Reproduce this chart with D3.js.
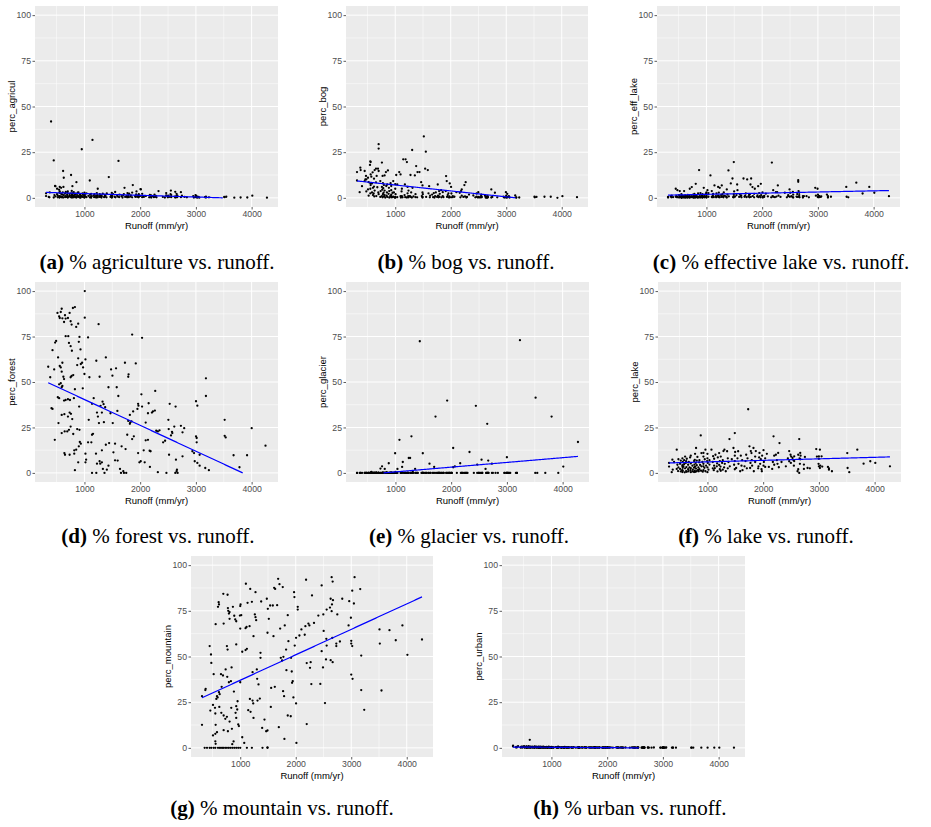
<!DOCTYPE html>
<html>
<head>
<meta charset="utf-8">
<script src="https://cdn.jsdelivr.net/npm/d3@7"></script>
<style>
  body { margin: 0; background: #ffffff; }
  svg { display: block; }
</style>
</head>
<body>
<svg id="fig" width="931" height="827"></svg>
<script>
// Catchment runoff (mm/yr), shared by the land-cover series below.
const runoff = [
  311,311,359,371,377,401,449,449,461,473,
  479,479,509,509,521,521,545,551,551,551,
  551,557,557,557,569,581,581,593,599,599,
  611,617,617,623,629,629,653,653,659,665,
  677,689,695,701,701,701,701,731,731,737,
  760,760,760,766,772,772,778,778,784,790,
  796,796,808,808,808,820,832,838,844,850,
  856,856,868,880,886,892,892,910,916,928,
  928,928,928,928,946,952,964,964,976,994,
  1000,1000,1000,1000,1006,1018,1036,1036,1072,1096,
  1096,1102,1114,1120,1120,1132,1144,1168,1174,1180,
  1186,1210,1210,1222,1222,1234,1239,1239,1263,1275,
  1275,1287,1299,1305,1311,1329,1353,1365,1365,1377,
  1395,1401,1437,1467,1479,1491,1491,1491,1491,1497,
  1515,1539,1551,1557,1587,1599,1611,1623,1629,1665,
  1683,1695,1707,1719,1731,1754,1766,1772,1778,1790,
  1796,1802,1826,1832,1856,1856,1868,1910,1916,1928,
  1934,1946,1958,1970,1976,1982,2006,2006,2012,2036,
  2036,2066,2102,2162,2174,2186,2198,2198,2228,2246,
  2257,2269,2281,2293,2329,2407,2443,2467,2467,2491,
  2497,2503,2527,2545,2551,2557,2557,2617,2629,2629,
  2647,2647,2653,2659,2665,2665,2671,2731,2731,2749,
  2796,2838,2952,2964,2994,3000,3000,3000,3018,3018,
  3024,3048,3060,3162,3180,3180,3234,3509,3515,3545,
  3689,3802,3922,4012,4275
];

const percAgricul = [
  2.5,1.0,0.5,0.3,3.0,41.8,20.5,0.2,1.5,6.5,
  6.4,0.8,2.0,5.0,0.3,1.2,4.5,0.5,2.8,0.2,
  1.0,6.0,0.4,3.5,0.8,5.5,2.2,0.3,1.8,0.6,
  3.0,14.7,0.2,6.0,11.0,1.5,0.4,2.4,0.9,3.2,
  0.5,1.6,2.8,0.2,3.6,1.0,0.4,2.2,0.7,1.3,
  12.5,0.3,2.5,1.1,3.8,0.6,1.9,0.2,6.4,1.4,
  0.5,2.6,1.2,0.3,3.1,0.8,1.7,0.4,2.3,0.6,
  8.6,0.2,1.5,2.8,0.5,1.0,3.0,0.3,1.8,0.7,
  2.1,0.4,1.2,0.1,0.9,26.6,2.4,0.5,1.6,0.3,
  2.9,0.6,1.3,0.2,1.9,0.8,2.5,0.4,1.1,9.5,
  0.3,1.7,0.5,2.2,0.1,0.9,31.7,1.4,0.4,2.0,
  0.6,1.2,0.2,2.6,0.8,1.5,5.0,0.3,1.0,0.5,
  2.0,0.7,1.3,0.2,0.9,2.3,0.4,1.6,0.6,1.1,
  0.3,2.4,11.4,0.5,1.2,0.2,2.7,0.8,0.4,1.5,
  2.0,0.6,3.2,0.3,1.1,0.7,20.2,0.4,1.8,0.9,
  0.2,1.4,2.1,5.5,0.5,1.0,0.3,2.6,0.8,1.6,
  0.4,2.3,0.7,1.3,2.9,0.3,7.0,1.0,0.5,1.9,
  3.5,0.6,1.2,0.3,2.0,0.8,4.8,1.1,4.6,0.4,
  2.2,0.5,1.0,0.3,1.6,0.7,0.2,1.3,0.9,0.4,
  1.8,0.6,1.1,0.3,3.7,0.5,0.2,1.4,2.6,0.8,
  0.3,1.2,0.6,2.0,4.0,0.4,1.5,0.7,0.2,3.3,
  1.0,0.5,2.2,0.3,1.4,0.6,0.8,3.1,0.4,1.2,
  0.5,0.3,0.9,0.2,1.5,0.4,1.1,0.6,0.3,0.8,
  0.2,0.5,0.1,0.4,0.6,0.2,0.3,0.5,0.4,0.6,
  0.1,0.2,0.2,1.2,0.1
];

const percBog = [
  14.1,9.5,3.1,16.5,15.2,6.4,9.2,14.7,10.1,12.0,
  10.1,3.5,4.6,11.0,8.6,1.2,18.0,20.0,5.0,8.0,
  2.5,19.6,12.8,7.0,11.6,3.0,7.9,14.0,5.5,1.5,
  2.4,10.5,6.2,0.8,15.2,4.0,16.0,8.5,1.0,12.0,
  5.8,16.0,3.0,29.4,27.0,14.7,2.0,9.2,0.5,3.7,
  19.3,6.0,1.0,4.5,12.0,0.3,8.0,2.0,5.3,2.8,
  0.8,7.0,12.3,1.5,4.0,0.2,14.1,6.5,1.2,3.0,
  7.3,0.5,15.0,2.2,5.5,0.2,3.7,1.0,8.0,0.9,
  4.2,0.3,6.5,1.8,0.4,2.8,9.2,0.6,3.0,0.2,
  5.0,0.5,7.5,0.1,2.0,12.5,7.3,0.4,14.1,0.9,
  12.8,0.2,3.5,0.9,5.0,0.3,21.1,1.5,7.3,0.4,
  21.1,19.6,0.2,6.0,2.5,0.9,0.3,4.0,1.0,12.5,
  0.6,3.0,0.2,26.2,5.5,0.8,12.3,2.0,0.4,17.4,
  0.3,14.1,14.1,8.6,1.0,6.8,0.2,3.0,0.5,2.0,
  33.6,16.0,25.3,0.5,15.2,2.5,6.4,0.3,1.2,1.8,
  0.4,2.6,0.2,1.0,3.0,0.5,7.3,1.2,0.3,3.7,
  0.6,2.2,4.2,0.3,3.1,1.0,0.4,3.7,11.9,9.2,
  0.5,1.5,2.5,0.2,0.8,7.9,6.0,0.3,2.4,1.0,
  0.4,0.6,3.1,2.8,0.3,3.7,1.2,4.6,0.5,7.0,
  0.8,8.6,0.2,0.5,1.8,1.3,0.3,2.4,0.6,0.2,
  3.1,0.5,0.2,1.0,1.8,0.3,0.6,1.3,0.2,0.9,
  0.4,0.1,0.7,0.2,0.5,1.0,0.3,4.6,0.2,0.5,
  2.8,0.3,0.6,0.2,3.1,0.5,1.2,0.1,2.2,0.3,
  0.4,0.9,0.2,1.3,0.3,0.1,0.2,0.6,0.3,0.5,
  0.6,0.6,0.0,0.9,0.4
];

const percEffLake = [
  0.5,0.2,0.8,0.3,1.2,0.4,5.0,0.6,1.0,0.3,
  4.2,0.5,1.5,0.2,3.7,0.8,0.3,1.1,0.4,2.0,
  0.2,0.7,1.3,0.1,0.5,1.0,0.3,0.8,3.7,0.2,
  0.6,1.4,0.3,0.9,0.2,1.1,0.5,0.8,0.1,1.6,
  0.4,0.7,1.2,0.3,5.0,0.6,0.2,1.0,0.4,5.9,
  0.3,1.8,0.6,0.2,1.1,0.5,0.8,0.3,2.2,0.4,
  1.0,0.2,0.6,7.7,0.4,1.3,0.3,0.7,0.2,2.5,
  0.5,0.3,15.2,1.0,0.2,2.6,0.6,0.4,1.5,0.3,
  0.8,2.0,0.2,1.2,0.5,5.5,0.3,1.6,0.7,2.4,
  0.4,3.0,1.0,0.2,1.8,4.2,0.6,2.6,12.3,0.5,
  3.7,0.3,1.4,0.8,2.2,0.4,6.8,1.0,0.3,2.5,
  0.6,6.0,1.2,0.4,2.9,0.8,0.3,5.5,1.5,6.8,
  0.5,2.0,0.9,0.3,3.0,1.1,0.6,4.6,0.2,1.8,
  15.0,0.8,7.9,10.6,0.4,19.6,2.0,1.0,0.3,3.5,
  0.7,1.5,7.3,4.2,0.5,2.1,0.9,1.3,0.3,10.6,
  0.6,1.2,2.4,0.4,10.1,0.8,1.6,0.3,2.0,7.3,
  0.5,10.6,5.9,1.0,0.3,2.2,5.0,0.7,1.4,6.4,
  0.4,2.6,0.9,0.3,7.7,1.5,0.6,3.0,0.2,1.1,
  0.5,2.3,0.8,0.3,19.3,1.0,4.2,0.6,0.4,3.1,
  0.7,3.1,6.8,1.2,0.5,2.8,0.3,1.5,0.9,4.6,
  0.6,2.8,1.0,0.4,3.3,0.2,1.8,0.7,2.1,0.5,
  9.7,8.8,3.7,0.6,1.5,2.8,0.3,1.0,0.2,0.9,
  0.9,0.3,5.5,1.2,5.0,0.4,1.8,0.6,0.9,0.3,
  1.0,0.5,0.8,1.8,0.9,0.2,0.6,6.0,0.6,0.3,
  8.3,2.4,6.0,2.8,0.9
];

const percGlacier = [
  0,0,0,0,0,0,0,0,0,0,
  0,0,0,0,0,0,0,0,0,0,
  0,0,0,0,0.5,0,0,0,0,0,
  0,0,0,0,0,0,0.3,0,0,0,
  0,0,0,0,0,0,0,2.4,0,0,
  3.6,0,0,0,0,0.2,0,0,0,0,
  0,0,2.2,0,0,0,0,0.4,0,0,
  0,0,0,5.3,0,0,0,0,0.3,0,
  0,0,0,0,0,0,0,0,0,10.8,
  0,0,0.5,0,0,0,2.2,0,18.2,0,
  0,0,0.4,0,3.3,6.0,0,0,0,0,
  0,0,0,0,0,0,8.2,0,8.2,0,
  0,20.1,0,0,0.6,0,2.2,0,0,0,
  0,0,72.4,0,0,10.8,0,0,0,0,
  0,0,0,0,0,0,5.1,0,0,0,
  0,3.3,0,31.0,0,0,0,0,0,0,
  0,0,0,0,0,0,0,0,0,39.8,
  0,0,0,0,0,0,0,0,0,3.1,
  13.7,3.6,0,5.3,0,0,0,0,0,0,
  0,0,0,0,11.5,0,36.9,4.6,0,0,
  0,0,0,7.3,0,0,0,2.2,0,0,
  27.0,0,0,0,6.8,0,0,5.1,0,0,
  0,0,0,0,0,8.6,0,0,0,0,
  0,0,0,0,0,0,73.0,0,41.4,0,
  0,31.0,0,3.5,17.0
];

const percLake = [
  5.5,3.5,0.4,7.3,1.8,6.0,12.8,2.2,4.5,1.0,
  7.5,3.0,2.2,5.0,0.8,6.8,1.5,3.6,8.0,4.2,
  0.5,2.8,6.0,1.2,3.6,7.0,4.8,0.3,2.5,9.0,
  5.5,1.0,6.4,3.2,0.6,7.8,2.0,4.5,0.9,6.0,
  3.0,8.5,1.5,0.4,5.2,2.6,9.5,0.8,4.0,1.8,
  6.5,2.9,0.5,4.6,7.2,1.2,3.4,10.5,0.6,5.5,
  13.7,2.4,6.8,0.9,4.2,8.8,1.6,3.0,0.9,5.8,
  2.0,7.0,4.4,20.6,1.2,10.9,3.6,6.0,0.7,3.6,
  9.0,1.5,5.0,11.0,2.8,7.5,0.9,12.8,4.0,6.5,
  0.4,8.0,3.0,10.5,5.5,1.8,4.6,7.0,12.8,2.5,
  6.0,9.2,1.5,4.0,7.8,2.6,10.0,3.6,5.2,0.8,
  8.5,4.4,10.9,2.0,6.5,3.5,9.0,1.2,5.5,1.8,
  7.0,12.0,3.0,12.8,5.0,0.9,11.9,8.0,2.5,6.0,
  18.6,3.6,7.5,13.7,4.5,21.9,9.5,2.0,6.5,11.5,
  2.7,8.0,11.9,5.0,0.9,9.5,4.0,7.0,1.5,3.6,
  6.5,10.0,2.5,8.0,35.0,14.6,2.7,5.5,12.0,10.9,
  7.0,4.0,13.7,0.9,9.0,6.0,12.0,2.5,3.6,8.5,
  11.0,5.0,7.5,2.0,0.9,9.5,12.5,4.0,6.0,3.3,
  8.0,10.5,3.3,2.2,6.0,20.1,9.5,4.5,10.0,7.0,
  5.0,11.0,3.1,16.4,6.0,3.6,8.0,12.0,6.4,10.0,
  5.5,9.0,8.2,7.0,4.0,9.1,6.5,0.9,10.0,2.0,
  0.0,18.6,8.0,5.0,11.0,7.5,9.5,4.6,2.2,8.8,
  2.7,2.5,13.1,9.0,5.0,3.6,7.8,9.1,12.8,2.7,
  4.0,9.1,3.5,3.3,1.8,2.5,0.9,10.9,2.7,0.4,
  12.8,5.1,6.4,5.5,3.6
];

const percMountain = [
  28.3,12.6,0,31.6,32.3,0,55.7,0,20.4,51.1,
  46.5,0,23.5,6.8,40.3,0,21.9,18.8,7.7,3.6,
  0,67.7,2.2,12.6,26.8,28.3,8.6,27.6,77.2,0,
  79.7,78.5,30.5,22.4,29.4,0,40.3,0,19.2,33.4,
  0,39.6,84.3,68.0,17.7,9.7,0,15.9,0,42.9,
  55.7,17.0,0,38.9,83.8,53.8,76.5,9.1,75.0,0,
  73.5,35.9,74.3,70.6,14.4,0,36.5,21.9,44.0,10.4,
  2.0,0,77.2,3.5,30.8,72.3,0,70.3,19.2,69.3,
  56.6,22.8,16.4,0,21.0,25.5,12.8,0,11.9,72.4,
  77.6,65.3,35.9,0,78.5,72.6,52.6,5.8,2.7,65.5,
  53.5,89.8,66.2,54.2,0,79.4,20.6,66.6,26.8,87.0,
  19.7,79.9,0,41.4,25.9,24.3,61.1,16.4,73.0,85.2,
  71.5,69.9,42.9,37.8,25.9,34.7,27.0,52.0,49.3,80.1,
  10.9,0,15.5,9.1,81.6,63.0,9.5,0.2,0,76.1,
  70.6,77.9,22.4,32.8,77.9,61.1,87.6,33.4,87.0,78.1,
  92.5,11.3,89.6,65.3,49.3,47.8,88.0,31.0,49.8,28.3,
  4.9,67.0,53.8,42.5,72.6,17.7,58.4,17.3,49.3,41.8,
  35.6,36.5,27.6,85.2,82.5,56.0,60.2,24.3,2.7,77.2,
  75.7,61.5,64.8,61.9,66.6,92.0,46.4,13.0,68.0,67.0,
  43.8,46.9,34.9,83.4,68.4,72.4,35.0,88.9,52.9,44.0,
  73.0,64.0,24.5,48.4,59.7,75.7,56.0,76.8,81.6,48.0,
  93.4,74.8,78.5,60.2,91.0,46.9,80.8,57.1,55.7,73.0,
  58.2,81.6,67.0,80.3,71.2,58.6,57.1,40.1,86.0,55.7,
  37.8,79.0,93.4,86.9,50.5,31.6,20.8,64.8,57.1,31.4,
  64.4,58.9,67.0,50.9,59.3
];

const percUrban = [
  0.8,1.2,0.3,0.5,0.2,0.9,0.4,0.1,0.6,0.3,
  0.2,0.7,0.4,1.0,0.1,0.3,0.5,0.2,0.8,0.1,
  0.4,0.3,0.6,0.2,0.1,0.5,0.2,0.9,0.3,0.1,
  4.4,0.2,0.5,0.3,0.7,0.1,0.4,0.2,0.6,0.3,
  0.1,0.5,0.2,0.8,0.3,0.1,0.4,0.2,0.6,0.1,
  0.3,0.2,0.5,0.1,0.4,0.7,0.2,0.1,0.3,0.5,
  0.1,0.4,0.2,0.6,0.1,0.3,0.2,0.5,0.1,0.3,
  0.6,0.2,0.1,0.4,0.2,0.3,0.1,0.5,0.2,0.1,
  0.3,0.1,0.4,0.2,0.1,0.6,0.2,0.3,0.1,0.2,
  0.4,0.1,0.2,0.5,0.1,0.3,0.2,0.1,0.4,0.2,
  0.1,0.3,0.2,0.6,0.1,0.2,0.4,0.1,0.3,0.2,
  0.1,0.2,0.4,0.1,0.3,0.2,0.1,0.5,0.2,0.1,
  0.3,0.1,0.2,0.4,0.1,0.2,0.3,0.1,0.2,0.1,
  0.2,0.4,0.1,0.2,0.3,0.1,0.2,0.1,0.4,0.2,
  0.1,0.3,0.2,0.1,0.2,0.4,0.1,0.2,0.1,0.3,
  0.2,0.1,0.3,0.1,0.2,0.1,0.4,0.2,0.1,0.2,
  0.1,0.3,0.1,0.2,0.1,0.2,0.3,0.1,0.2,0.1,
  0.2,0.1,0.3,0.1,0.2,0.1,0.2,0.4,0.1,0.2,
  0.1,0.2,0.1,0.3,0.1,0.2,0.1,0.2,0.1,0.3,
  0.1,0.2,0.1,0.1,0.2,0.1,0.3,0.1,0.2,0.1,
  0.2,0.1,0.1,0.2,0.1,0.3,0.1,0.1,0.2,0.1,
  0.1,0.2,0.1,0.1,0.2,0.1,0.1,0.2,0.1,0.1,
  0.1,0.2,0.1,0.1,0.1,0.2,0.1,0.1,0.2,0.1,
  0.1,0.1,0.2,0.1,0.1,0.1,0.1,0.1,0.1,0.1,
  0.1,0.1,0.1,0.1,0.1
];

// Forest cover with its own runoff readings.
const forestRunoff = [
  350,386,409,427,427,457,474,492,468,516,575,546,592,557,604,634,663,651,704,734,
  752,770,793,829,852,888,911,899,710,663,722,752,775,929,1006,1006,1065,527,557,575,
  604,592,622,634,575,546,522,546,592,604,663,634,704,740,770,799,752,870,888,935,
  958,976,1018,1000,1089,811,829,970,905,734,758,704,640,592,534,781,752,722,692,645,
  592,799,870,911,917,935,899,852,817,817,734,651,640,888,829,1018,1030,1018,1065,1124,
  1136,1154,1077,1136,1166,1213,1254,1272,1313,1225,1242,1289,1343,1325,1372,1260,1349,1384,1431,1478,
  1502,1467,1508,1567,1579,1591,1608,1443,1549,1384,1313,1207,1272,1225,1284,1313,1136,1213,1331,1360,
  1402,1431,1549,1596,1520,1667,1638,1656,1709,1750,1697,1738,1768,1786,1821,1815,1815,1786,1792,1727,
  1856,1921,1874,1845,1856,1886,1963,1969,1951,1963,1986,2010,2034,2022,2034,2063,2081,2099,2099,2140,
  2140,2152,2170,2187,2175,2211,2229,2270,2264,2288,2317,2347,2317,2412,2447,2471,2506,2512,2518,2530,
  2553,2571,2577,2612,2636,2642,2630,2654,2672,2660,2731,2760,2790,2760,2937,2967,2979,3026,3002,3014,
  3014,3002,3026,3067,3067,3180,3180,3168,3233,3516,3516,3534,3676,3782,3918,4001,4249
];
const percForest = [
  58.4,52.6,35.6,35.2,67.5,56.9,71.7,72.6,18.2,88.0,88.5,86.1,90.3,85.2,85.0,83.0,84.9,86.7,85.2,88.0,
  83.4,81.6,90.7,91.2,80.3,82.1,74.8,72.1,75.2,75.2,71.5,69.7,67.2,67.9,100,85.4,74.5,63.5,58.8,58.0,
  60.6,55.7,52.9,51.6,49.3,41.1,41.6,48.7,47.1,47.8,40.1,39.8,40.5,40.1,53.3,53.8,52.6,59.3,63.0,59.9,
  60.6,58.0,62.4,54.4,52.6,41.1,46.0,46.5,36.5,33.2,32.5,31.0,32.3,31.9,27.4,29.6,25.5,23.7,22.8,22.8,
  21.9,21.4,24.1,23.7,17.0,16.1,14.6,12.8,12.4,10.6,10.0,10.0,10.9,5.8,1.5,10.6,7.3,5.8,16.8,16.8,
  21.0,21.5,29.2,38.0,41.1,61.7,81.8,52.9,33.2,33.2,31.0,36.9,37.8,39.2,36.1,27.4,27.9,63.5,47.1,56.9,
  53.5,32.8,27.4,57.5,47.1,34.1,42.3,16.4,16.1,15.5,12.4,10.6,6.4,5.1,5.1,5.8,0,0,2.2,0,
  1.8,4.0,6.9,6.8,11.3,14.6,2.2,0,0,0,0.9,13.1,21.0,28.6,27.7,31.9,27.0,52.9,54.2,60.6,
  76.1,60.2,33.8,28.3,18.6,20.1,38.0,37.0,35.2,10.9,5.8,6.4,74.3,43.2,36.5,12.4,5.8,27.7,17.9,18.2,
  32.8,38.3,12.2,11.9,3.3,33.2,33.8,45.1,34.3,23.2,22.8,23.4,0.4,16.8,17.7,0,29.2,24.1,10.0,38.0,
  20.6,22.6,21.9,25.5,36.5,7.3,0,0.9,0,1.8,25.9,22.3,24.6,9.1,11.9,10.9,6.4,5.5,20.1,19.2,
  16.8,39.4,37.0,10.0,4.0,52.0,42.3,2.7,1.5,29.2,20.4,19.5,9.7,3.1,9.7,24.6,15.0
];

// Linear fits (intercept, slope per mm/yr), one per panel a..h.
const fitIntercept = [3.28, 10.27, 1.30, 54.57, -2.03, 5.23, 23.07, 0.511];
const fitSlope = [-0.000937, -0.003235, 0.000635, -0.01421, 0.0026, 0.000837, 0.01393, -0.000198];

const yTicks = [0, 25, 50, 75, 100];
const yMinor = [12.5, 37.5, 62.5, 87.5];
const xTicks = [1000, 2000, 3000, 4000];
const xMinor = [500, 1500, 2500, 3500, 4500];

const yLabels = ["perc_agricul", "perc_bog", "perc_eff_lake", "perc_forest",
                 "perc_glacier", "perc_lake", "perc_mountain", "perc_urban"];
const captionTags = ["(a)", "(b)", "(c)", "(d)", "(e)", "(f)", "(g)", "(h)"];
const captionTexts = ["% agriculture vs. runoff.", "% bog vs. runoff.",
  "% effective lake vs. runoff.", "% forest vs. runoff.", "% glacier vs. runoff.",
  "% lake vs. runoff.", "% mountain vs. runoff.", "% urban vs. runoff."];

const seriesX = [runoff, runoff, runoff, forestRunoff, runoff, runoff, runoff, runoff];
const seriesY = [percAgricul, percBog, percEffLake, percForest, percGlacier, percLake, percMountain, percUrban];

// Panel boxes [left, top, right, bottom] and caption anchor [cx, baseline].
const layout = [
  { box: [35, 6, 278, 207],    cap: [157, 269] },
  { box: [346, 6, 588, 207],   cap: [466, 269] },
  { box: [657, 6, 900, 207],   cap: [781, 269] },
  { box: [35, 282, 278, 482],  cap: [158, 543] },
  { box: [346, 282, 589, 482], cap: [469, 543] },
  { box: [658, 282, 901, 482], cap: [766, 543] },
  { box: [191, 556, 433, 757], cap: [282, 815] },
  { box: [502, 556, 745, 757], cap: [630, 815] }
];

const svg = d3.select("#fig");
const sans = "'Liberation Sans', Arial, sans-serif";
const serif = "'Liberation Serif', 'Times New Roman', serif";

const allX = runoff.concat(forestRunoff);
const ext = d3.extent(allX);
const pad = (ext[1] - ext[0]) * 0.05;
const xDomain = [ext[0] - pad, ext[1] + pad];
const yDomain = [-5, 105];

layout.forEach((L, i) => {
  const [x0, y0, x1, y1] = L.box;
  const x = d3.scaleLinear().domain(xDomain).range([x0, x1]);
  const y = d3.scaleLinear().domain(yDomain).range([y1, y0]);
  const g = svg.append("g");

  g.append("rect")
    .attr("x", x0).attr("y", y0)
    .attr("width", x1 - x0).attr("height", y1 - y0)
    .attr("fill", "#ebebeb");

  // minor grid
  g.selectAll(".ymin").data(yMinor).enter().append("line")
    .attr("x1", x0).attr("x2", x1)
    .attr("y1", d => y(d)).attr("y2", d => y(d))
    .attr("stroke", "#ffffff").attr("stroke-width", 0.5);
  g.selectAll(".xmin").data(xMinor.filter(v => v > xDomain[0] && v < xDomain[1])).enter().append("line")
    .attr("y1", y0).attr("y2", y1)
    .attr("x1", d => x(d)).attr("x2", d => x(d))
    .attr("stroke", "#ffffff").attr("stroke-width", 0.5);
  // major grid
  g.selectAll(".ymaj").data(yTicks).enter().append("line")
    .attr("x1", x0).attr("x2", x1)
    .attr("y1", d => y(d)).attr("y2", d => y(d))
    .attr("stroke", "#ffffff").attr("stroke-width", 1);
  g.selectAll(".xmaj").data(xTicks).enter().append("line")
    .attr("y1", y0).attr("y2", y1)
    .attr("x1", d => x(d)).attr("x2", d => x(d))
    .attr("stroke", "#ffffff").attr("stroke-width", 1);

  // points
  const xs = seriesX[i], ys = seriesY[i];
  const pts = xs.map((v, k) => [v, ys[k]]).filter(d => d[1] !== undefined);
  g.selectAll(".pt").data(pts).enter().append("circle")
    .attr("cx", d => x(d[0])).attr("cy", d => y(d[1]))
    .attr("r", 1.15).attr("fill", "#000000");

  // fitted line, kept within the 0..100 limits
  const xr = d3.extent(xs);
  const steps = d3.range(0, 201).map(k => xr[0] + (xr[1] - xr[0]) * k / 200);
  const fitPts = steps.map(v => [v, fitIntercept[i] + fitSlope[i] * v]);
  const line = d3.line()
    .defined(d => d[1] >= 0 && d[1] <= 100)
    .x(d => x(d[0])).y(d => y(d[1]));
  g.append("path").datum(fitPts)
    .attr("d", line).attr("fill", "none")
    .attr("stroke", "#0000ff").attr("stroke-width", 1.2);

  // axes
  const ax = g.append("g").attr("transform", `translate(0,${y1})`)
    .call(d3.axisBottom(x).tickValues(xTicks).tickFormat(d3.format("d")).tickSize(2.5).tickPadding(1.5));
  const ay = g.append("g").attr("transform", `translate(${x0},0)`)
    .call(d3.axisLeft(y).tickValues(yTicks).tickFormat(d3.format("d")).tickSize(2.5).tickPadding(1.5));
  [ax, ay].forEach(a => {
    a.select(".domain").remove();
    a.selectAll(".tick line").attr("stroke", "#333333").attr("stroke-width", 0.8);
    a.selectAll(".tick text").attr("fill", "#4d4d4d")
      .style("font-family", sans).style("font-size", "8.7px");
  });

  // axis titles
  g.append("text")
    .attr("x", (x0 + x1) / 2).attr("y", y1 + 21.5)
    .attr("text-anchor", "middle")
    .style("font-family", sans).style("font-size", "9.5px").attr("fill", "#000")
    .text("Runoff (mm/yr)");
  g.append("text")
    .attr("transform", `translate(${x0 - 20},${(y0 + y1) / 2}) rotate(-90)`)
    .attr("text-anchor", "middle")
    .style("font-family", sans).style("font-size", "9.5px").attr("fill", "#000")
    .text(yLabels[i]);

  // caption
  const cap = svg.append("text")
    .attr("x", L.cap[0]).attr("y", L.cap[1])
    .attr("text-anchor", "middle")
    .style("font-family", serif).style("font-size", "21px").attr("fill", "#000");
  cap.append("tspan").attr("font-weight", "bold").text(captionTags[i]);
  cap.append("tspan").text(" " + captionTexts[i]);
});
</script>
</body>
</html>
